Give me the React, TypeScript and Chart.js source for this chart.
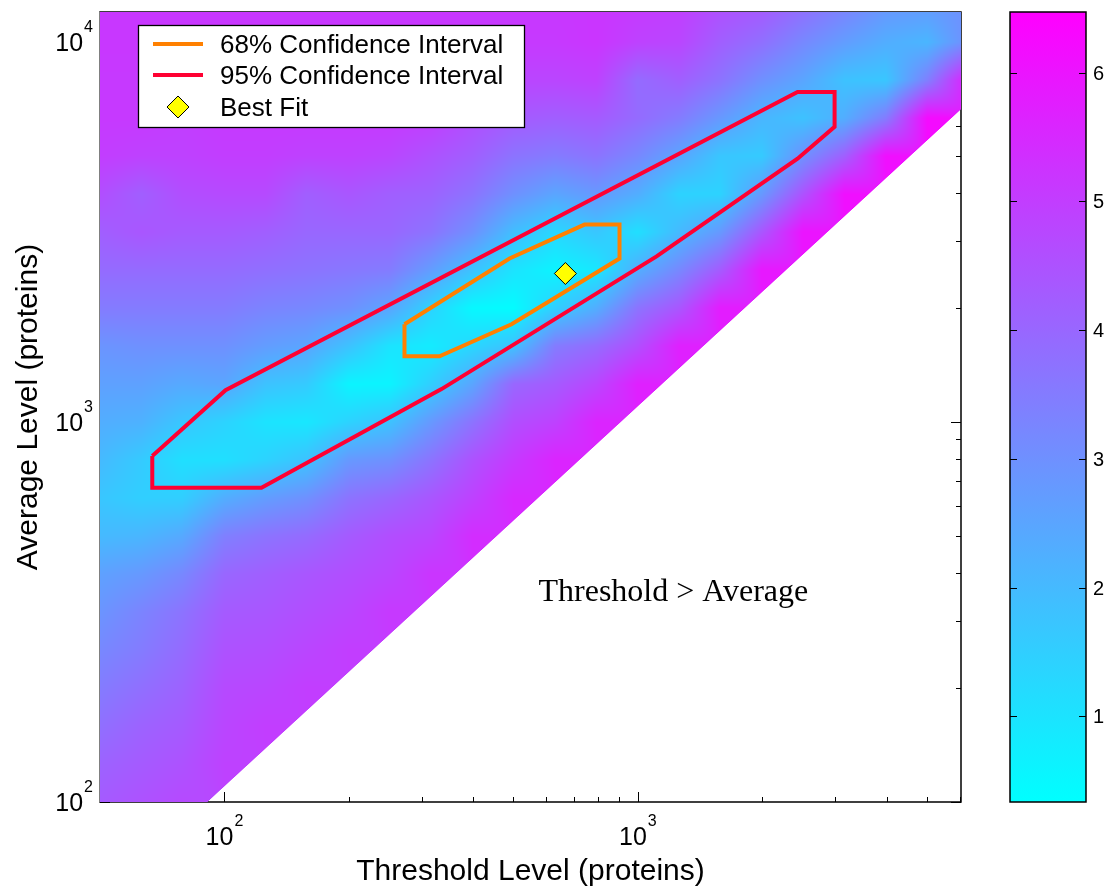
import { useEffect, useRef } from 'react';
import { Chart, registerables } from 'chart.js';

Chart.register(...registerables);

// ---------------- axes & colour scale ----------------
const X_RANGE = [50, 6050];
const Y_RANGE = [100, 12000];
const X_TICK_EXPONENTS = [2, 3];
const Y_TICK_EXPONENTS = [2, 3, 4];
const COLOR_RANGE = [0.335, 6.47];
const COLORBAR_TICKS = [1, 2, 3, 4, 5, 6];
const BOUNDARY_RATIO = 1.1; // cells with Threshold > Average are empty

const X_TITLE = 'Threshold Level (proteins)';
const Y_TITLE = 'Average Level (proteins)';
const REGION_TEXT = 'Threshold > Average';
const REGION_TEXT_X = 575; // data coords of text's left baseline
const REGION_TEXT_Y = 339;

// ---------------- heat-map grid ----------------
const GRID_X = [50, 63, 79, 100, 126, 158, 200, 251, 316, 398, 501, 631, 794, 1000, 1259, 1585, 1995, 2512, 3162, 3981, 5012, 6310];
const GRID_Y = [100, 126, 158, 200, 251, 316, 398, 501, 631, 794, 1000, 1259, 1585, 1995, 2512, 3162, 3981, 5012, 6310, 7943, 10000, 12589];
const N = null;
// one column per GRID_X entry, values listed along GRID_Y
const Z_COLUMNS: (number | null)[][] = [
  [4.3, 4.1, 3.8, 3.5, 3.2, 2.9, 2.6, 2.0, 1.7, 2.0, 2.3, 2.6, 2.9, 3.5, 3.9, 4.2, 4.6, 5.0, 5.1, 5.1, 5.15, 5.15],
  [4.5, 4.3, 4.1, 3.8, 3.5, 3.3, 2.8, 2.1, 1.5, 1.6, 2.2, 2.6, 3.0, 3.5, 3.9, 4.4, 4.2, 4.9, 5.1, 5.1, 5.15, 5.15],
  [4.7, 4.5, 4.3, 4.1, 3.9, 3.7, 3.2, 2.4, 1.5, 1.1, 1.7, 2.4, 3.0, 3.5, 3.9, 4.3, 4.6, 4.9, 5.0, 5.1, 5.15, 5.15],
  [N, 4.9, 4.8, 4.7, 4.5, 4.3, 4.0, 3.4, 2.3, 1.1, 1.4, 2.5, 3.0, 3.5, 3.9, 4.3, 4.7, 5.0, 5.1, 5.1, 5.15, 5.15],
  [N, N, 5.0, 4.8, 4.6, 4.4, 4.2, 3.7, 2.7, 1.4, 1.0, 1.8, 2.7, 3.3, 3.8, 4.2, 4.7, 5.0, 5.1, 5.1, 5.15, 5.15],
  [N, N, N, 5.0, 4.8, 4.6, 4.4, 3.9, 3.0, 1.8, 0.9, 1.6, 2.5, 3.2, 3.7, 4.0, 4.2, 4.9, 5.1, 5.1, 5.15, 5.15],
  [N, N, N, N, 5.0, 4.8, 4.6, 4.3, 3.7, 2.8, 1.4, 0.6, 1.8, 3.0, 3.6, 4.0, 4.4, 4.9, 5.1, 5.1, 5.15, 5.15],
  [N, N, N, N, N, 5.1, 4.8, 4.6, 4.0, 3.0, 1.8, 0.6, 1.0, 2.5, 3.5, 4.0, 4.2, 4.8, 5.1, 5.1, 5.15, 5.15],
  [N, N, N, N, N, N, 5.2, 4.8, 4.4, 3.7, 2.8, 1.5, 0.8, 1.4, 2.7, 3.7, 4.1, 4.5, 5.0, 5.1, 5.15, 5.15],
  [N, N, N, N, N, N, N, 5.4, 4.9, 4.5, 3.7, 2.5, 1.3, 0.5, 1.8, 3.0, 3.7, 4.2, 4.6, 5.0, 5.1, 5.15],
  [N, N, N, N, N, N, N, N, 5.5, 5.1, 4.6, 4.0, 1.8, 0.4, 1.0, 1.9, 3.0, 3.7, 4.3, 4.8, 5.1, 5.15],
  [N, N, N, N, N, N, N, N, N, 5.6, 4.9, 4.3, 3.5, 1.5, 0.6, 1.3, 2.5, 3.5, 4.2, 4.8, 5.1, 5.15],
  [N, N, N, N, N, N, N, N, N, N, 5.6, 4.8, 3.9, 2.3, 0.9, 1.7, 2.8, 3.7, 4.3, 4.9, 5.2, 5.2],
  [N, N, N, N, N, N, N, N, N, N, N, 5.7, 4.6, 3.7, 2.3, 1.1, 2.3, 3.2, 3.9, 3.9, 4.9, 5.1],
  [N, N, N, N, N, N, N, N, N, N, N, N, 5.7, 4.4, 3.2, 2.0, 1.4, 2.5, 3.5, 4.2, 4.8, 5.0],
  [N, N, N, N, N, N, N, N, N, N, N, N, N, 5.8, 4.3, 2.8, 1.4, 1.7, 2.8, 3.7, 4.2, 4.6],
  [N, N, N, N, N, N, N, N, N, N, N, N, N, N, 5.9, 4.4, 2.8, 1.6, 2.1, 3.0, 3.8, 4.4],
  [N, N, N, N, N, N, N, N, N, N, N, N, N, N, N, 6.0, 4.5, 3.0, 1.8, 2.5, 3.2, 3.9],
  [N, N, N, N, N, N, N, N, N, N, N, N, N, N, N, N, 6.1, 4.2, 2.3, 1.8, 2.7, 3.4],
  [N, N, N, N, N, N, N, N, N, N, N, N, N, N, N, N, N, 6.1, 3.5, 1.7, 2.3, 2.9],
  [N, N, N, N, N, N, N, N, N, N, N, N, N, N, N, N, N, N, 6.2, 3.4, 2.1, 2.8],
  [N, N, N, N, N, N, N, N, N, N, N, N, N, N, N, N, N, N, N, 5.8, 3.1, 3.0],
];

// ---------------- confidence regions & best fit ----------------
const CI68_X = [272.6, 272.6, 331.3, 494.8, 903, 903, 743, 489.4, 272.6];
const CI68_Y = [1808, 1490, 1490, 1808, 2694, 3309, 3309, 2694, 1808];
const CI95_X = [66.9, 66.9, 122.9, 335, 1110, 2434, 2992, 2992, 2434, 100.6, 66.9];
const CI95_Y = [814.5, 671.2, 671.2, 1221, 2728, 4932, 5983, 7393, 7393, 1213, 814.5];
const BEST_FIT_X = [668];
const BEST_FIT_Y = [2460];
const SERIES_LABELS = ['68% Confidence Interval', '95% Confidence Interval', 'Best Fit'];

const ORANGE = 'rgb(255,128,0)';
const RED = 'rgb(255,0,50)';
const YELLOW = 'rgb(255,255,0)';
const SANS = '"Liberation Sans", Arial, sans-serif';
const SERIF = '"Liberation Serif", "Times New Roman", serif';

const toPoints = (xs: number[], ys: number[]) => xs.map((x, i) => ({ x, y: ys[i] }));

function locate(arr: number[], v: number): [number, number] {
  const n = arr.length;
  if (v <= arr[0]) return [0, 0];
  if (v >= arr[n - 1]) return [n - 2, 1];
  let i = 0;
  while (i < n - 2 && arr[i + 1] < v) i++;
  return [i, (v - arr[i]) / (arr[i + 1] - arr[i])];
}

function coolColor(v: number): [number, number, number] {
  let t = (v - COLOR_RANGE[0]) / (COLOR_RANGE[1] - COLOR_RANGE[0]);
  t = Math.max(0, Math.min(1, t));
  return [Math.round(255 * t), Math.round(255 * (1 - t)), 255];
}

function decadeTicks(expLo: number, expHi: number) {
  const out: { v: number; major: boolean }[] = [];
  for (let e = expLo; e <= expHi; e++) {
    for (let m = 1; m <= 9; m++) out.push({ v: m * Math.pow(10, e), major: m === 1 });
  }
  return out;
}

const axesPlugin = {
  id: 'axesFrame',
  beforeDatasetsDraw(chart: any) {
    const { ctx, chartArea: a } = chart;
    const xs = chart.scales.x, ys = chart.scales.y;
    ctx.save();
    ctx.strokeStyle = '#000';
    ctx.lineWidth = 1.5;
    ctx.beginPath();
    ctx.rect(a.left, a.top, a.right - a.left, a.bottom - a.top);
    ctx.stroke();
    ctx.lineWidth = 1;
    ctx.beginPath();
    for (const t of decadeTicks(1, 3)) {
      if (t.v < X_RANGE[0] || t.v > X_RANGE[1]) continue;
      const px = Math.round(xs.getPixelForValue(t.v)) + 0.5;
      const len = t.major ? 10 : 5;
      ctx.moveTo(px, a.bottom); ctx.lineTo(px, a.bottom - len);
      ctx.moveTo(px, a.top); ctx.lineTo(px, a.top + len);
    }
    for (const t of decadeTicks(2, 4)) {
      if (t.v < Y_RANGE[0] || t.v > Y_RANGE[1]) continue;
      const py = Math.round(ys.getPixelForValue(t.v)) + 0.5;
      const len = t.major ? 10 : 5;
      ctx.moveTo(a.right, py); ctx.lineTo(a.right - len, py);
      ctx.moveTo(a.left, py); ctx.lineTo(a.left + len, py);
    }
    ctx.stroke();
    ctx.restore();
  },
};

const heatmapPlugin = {
  id: 'heatmap',
  beforeDatasetsDraw(chart: any) {
    const { ctx, chartArea: a } = chart;
    const xs = chart.scales.x, ys = chart.scales.y;
    const left = Math.round(a.left), top = Math.round(a.top);
    const w = Math.round(a.right) - left, h = Math.round(a.bottom) - top;
    const lgx = GRID_X.map(Math.log10), lgy = GRID_Y.map(Math.log10);
    const colI = new Int32Array(w), colF = new Float64Array(w), colB = new Float64Array(w);
    for (let i = 0; i < w; i++) {
      const v = xs.getValueForPixel(left + i + 0.5);
      const [k, f] = locate(lgx, Math.log10(v));
      colI[i] = k; colF[i] = f;
      colB[i] = ys.getPixelForValue(v * BOUNDARY_RATIO);
    }
    const rowI = new Int32Array(h), rowF = new Float64Array(h);
    for (let j = 0; j < h; j++) {
      const v = ys.getValueForPixel(top + j + 0.5);
      const [k, f] = locate(lgy, Math.log10(v));
      rowI[j] = k; rowF[j] = f;
    }
    const off = document.createElement('canvas');
    off.width = w; off.height = h;
    const octx = off.getContext('2d')!;
    const img = octx.createImageData(w, h);
    const d = img.data;
    for (let j = 0; j < h; j++) {
      const py = top + j + 0.5;
      const iy = rowI[j], fy = rowF[j];
      for (let i = 0; i < w; i++) {
        const alpha = Math.max(0, Math.min(1, colB[i] - py + 0.5));
        if (alpha <= 0) continue;
        const ix = colI[i], fx = colF[i];
        const c0 = Z_COLUMNS[ix], c1 = Z_COLUMNS[ix + 1];
        const corners: [number | null, number][] = [
          [c0[iy], (1 - fx) * (1 - fy)],
          [c1[iy], fx * (1 - fy)],
          [c0[iy + 1], (1 - fx) * fy],
          [c1[iy + 1], fx * fy],
        ];
        let s = 0, ws = 0;
        for (const [z, wt] of corners) {
          if (z === null || z === undefined) continue;
          s += z * wt; ws += wt;
        }
        if (ws <= 1e-9) {
          let cnt = 0; s = 0;
          for (const [z] of corners) if (z !== null && z !== undefined) { s += z; cnt++; }
          if (!cnt) continue;
          s /= cnt; ws = 1;
        }
        const [r, g, b] = coolColor(s / ws);
        const idx = (j * w + i) * 4;
        d[idx] = r; d[idx + 1] = g; d[idx + 2] = b; d[idx + 3] = Math.round(255 * alpha);
      }
    }
    octx.putImageData(img, 0, 0);
    ctx.drawImage(off, left, top);
    ctx.save();
    ctx.strokeStyle = '#808080';
    ctx.lineWidth = 1;
    ctx.beginPath();
    ctx.moveTo(left - 0.5, top); ctx.lineTo(left - 0.5, top + h);
    ctx.stroke();
    ctx.restore();
  },
};

function drawPow10(ctx: CanvasRenderingContext2D, exp: number, x: number, baseline: number, align: 'center' | 'right') {
  ctx.font = `25px ${SANS}`;
  const w10 = ctx.measureText('10').width;
  ctx.font = `16px ${SANS}`;
  const we = ctx.measureText(String(exp)).width;
  const total = w10 + 1 + we;
  const start = align === 'center' ? x - total / 2 : x - total;
  ctx.textAlign = 'left';
  ctx.textBaseline = 'alphabetic';
  ctx.font = `25px ${SANS}`;
  ctx.fillText('10', start, baseline);
  ctx.font = `16px ${SANS}`;
  ctx.fillText(String(exp), start + w10 + 1, baseline - 19);
}

const overlayPlugin = {
  id: 'overlay',
  afterDraw(chart: any) {
    const { ctx, chartArea: a } = chart;
    const xs = chart.scales.x, ys = chart.scales.y;
    ctx.save();
    ctx.fillStyle = '#000';
    for (const e of X_TICK_EXPONENTS) {
      const px = xs.getPixelForValue(Math.pow(10, e));
      drawPow10(ctx, e, px, a.bottom + 43, 'center');
    }
    for (const e of Y_TICK_EXPONENTS) {
      const py = ys.getPixelForValue(Math.pow(10, e));
      drawPow10(ctx, e, a.left - 7, py + 9, 'right');
    }
    ctx.font = `30px ${SANS}`;
    ctx.textAlign = 'center';
    ctx.textBaseline = 'alphabetic';
    ctx.fillText(X_TITLE, (a.left + a.right) / 2, a.bottom + 78);
    ctx.save();
    ctx.translate(37, (a.top + a.bottom) / 2);
    ctx.rotate(-Math.PI / 2);
    ctx.fillText(Y_TITLE, 0, 0);
    ctx.restore();

    ctx.font = `32px ${SERIF}`;
    ctx.textAlign = 'left';
    ctx.fillText(REGION_TEXT, xs.getPixelForValue(REGION_TEXT_X), ys.getPixelForValue(REGION_TEXT_Y));

    // colour bar
    const cbL = 1010, cbR = 1086, cbT = a.top, cbB = a.bottom;
    const grad = ctx.createLinearGradient(0, cbB, 0, cbT);
    const [r0, g0, b0] = coolColor(COLOR_RANGE[0]);
    const [r1, g1, b1] = coolColor(COLOR_RANGE[1]);
    grad.addColorStop(0, `rgb(${r0},${g0},${b0})`);
    grad.addColorStop(1, `rgb(${r1},${g1},${b1})`);
    ctx.fillStyle = grad;
    ctx.fillRect(cbL, cbT, cbR - cbL, cbB - cbT);
    ctx.strokeStyle = '#000';
    ctx.lineWidth = 1.5;
    ctx.strokeRect(cbL, cbT, cbR - cbL, cbB - cbT);
    ctx.lineWidth = 1;
    ctx.fillStyle = '#000';
    ctx.font = `20px ${SANS}`;
    ctx.textAlign = 'left';
    ctx.textBaseline = 'middle';
    for (const v of COLORBAR_TICKS) {
      const py = Math.round(cbB - (v - COLOR_RANGE[0]) / (COLOR_RANGE[1] - COLOR_RANGE[0]) * (cbB - cbT)) + 0.5;
      ctx.beginPath();
      ctx.moveTo(cbL, py); ctx.lineTo(cbL + 7, py);
      ctx.moveTo(cbR, py); ctx.lineTo(cbR - 7, py);
      ctx.stroke();
      ctx.fillText(String(v), cbR + 7, py + 1);
    }

    // legend
    const ds = chart.data.datasets;
    const lx = 138.5, ly = 25.5, lw = 386, lh = 102;
    ctx.fillStyle = '#fff';
    ctx.fillRect(lx, ly, lw, lh);
    ctx.strokeStyle = '#000';
    ctx.lineWidth = 1.3;
    ctx.strokeRect(lx, ly, lw, lh);
    const rows = [
      { d: ds[1], y: 44 },
      { d: ds[2], y: 75 },
      { d: ds[0], y: 107 },
    ];
    ctx.font = `26px ${SANS}`;
    ctx.textBaseline = 'alphabetic';
    for (const row of rows) {
      if (row.d.pointStyle === 'rectRot') {
        const cx = 178, cy = row.y, r = 11;
        ctx.beginPath();
        ctx.moveTo(cx - r, cy); ctx.lineTo(cx, cy - r); ctx.lineTo(cx + r, cy); ctx.lineTo(cx, cy + r);
        ctx.closePath();
        ctx.fillStyle = row.d.backgroundColor;
        ctx.fill();
        ctx.strokeStyle = row.d.borderColor;
        ctx.lineWidth = 1;
        ctx.stroke();
      } else {
        ctx.strokeStyle = row.d.borderColor;
        ctx.lineWidth = 4;
        ctx.beginPath();
        ctx.moveTo(153, row.y); ctx.lineTo(203, row.y);
        ctx.stroke();
      }
      ctx.fillStyle = '#000';
      ctx.fillText(row.d.label, 220, row.y + 9);
    }
    ctx.restore();
  },
};

export default function App() {
  const ref = useRef<HTMLCanvasElement>(null);
  useEffect(() => {
    if (!ref.current) return;
    const chart = new Chart(ref.current, {
      type: 'scatter',
      data: {
        datasets: [
          {
            label: SERIES_LABELS[2],
            data: toPoints(BEST_FIT_X, BEST_FIT_Y),
            pointStyle: 'rectRot',
            pointRadius: 11,
            backgroundColor: YELLOW,
            borderColor: '#000',
            borderWidth: 1,
            showLine: false,
          },
          {
            label: SERIES_LABELS[0],
            data: toPoints(CI68_X, CI68_Y),
            showLine: true,
            borderColor: ORANGE,
            backgroundColor: ORANGE,
            borderWidth: 4,
            borderJoinStyle: 'miter',
            pointRadius: 0,
            fill: false,
            tension: 0,
          },
          {
            label: SERIES_LABELS[1],
            data: toPoints(CI95_X, CI95_Y),
            showLine: true,
            borderColor: RED,
            backgroundColor: RED,
            borderWidth: 4,
            borderJoinStyle: 'miter',
            pointRadius: 0,
            fill: false,
            tension: 0,
          },
        ],
      } as any,
      options: {
        animation: false,
        responsive: false,
        devicePixelRatio: 1,
        layout: { padding: { left: 100, top: 9, right: 145, bottom: 86 } },
        scales: {
          x: { type: 'logarithmic', min: X_RANGE[0], max: X_RANGE[1], display: false },
          y: { type: 'logarithmic', min: Y_RANGE[0], max: Y_RANGE[1], display: false },
        },
        plugins: { legend: { display: false }, tooltip: { enabled: false } },
        events: [],
      },
      plugins: [axesPlugin, heatmapPlugin, overlayPlugin],
    });
    return () => chart.destroy();
  }, []);
  return (
    <div style={{ position: 'absolute', left: 0, top: 0, width: 1106, height: 888, background: '#fff' }}>
      <canvas ref={ref} width={1106} height={888} style={{ display: 'block' }} />
    </div>
  );
}
